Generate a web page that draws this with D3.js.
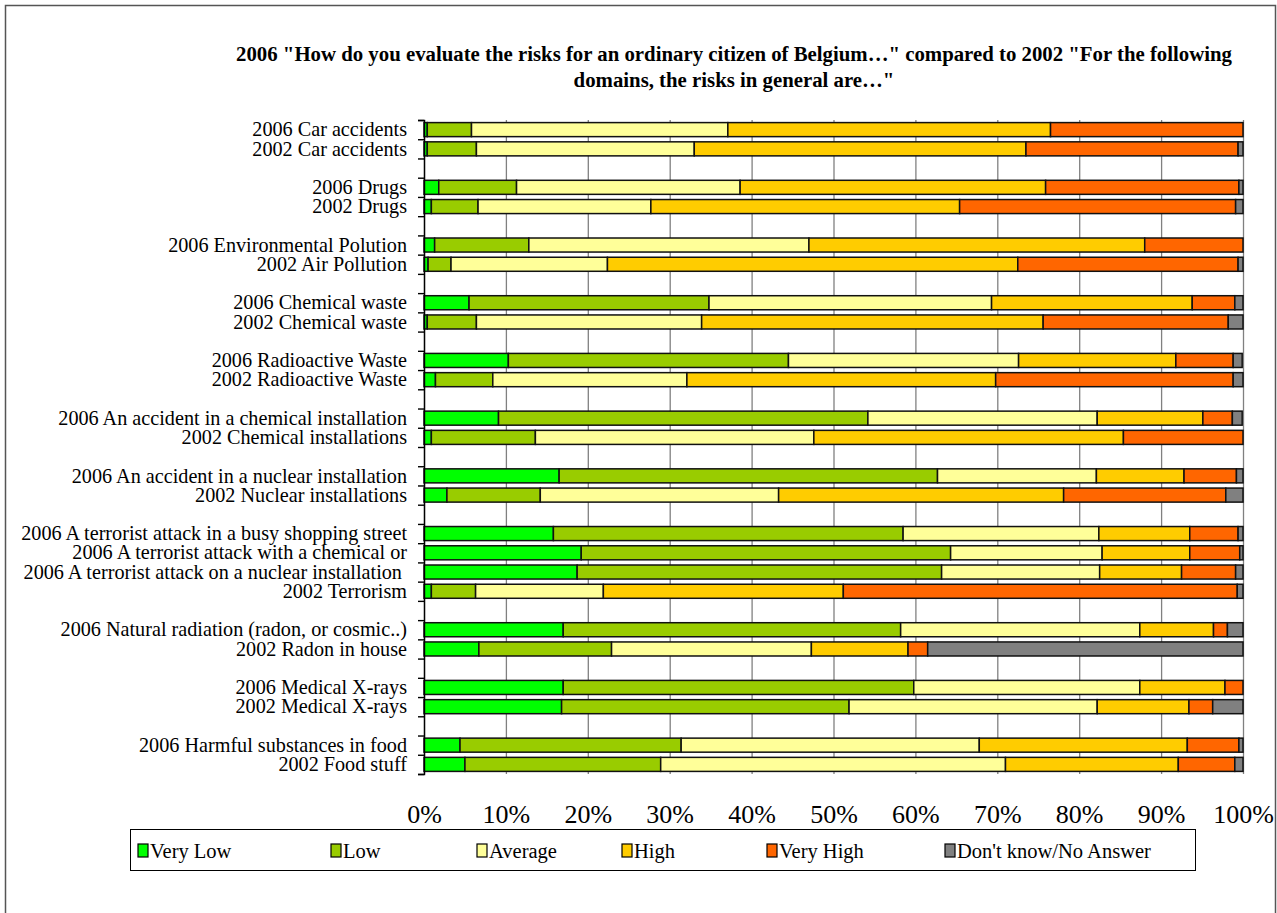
<!DOCTYPE html>
<html lang="en">
<head>
<meta charset="UTF-8">
<title>Risk perception 2006 vs 2002</title>
<style>
  body { margin: 0; background: #fff; }
  svg text { font-family: "Liberation Serif", "Times New Roman", serif; }
  .title { font-family: "Liberation Serif", "Times New Roman", serif; font-weight: bold; font-size: 20.8px; }
  .cat { font-size: 20.2px; white-space: pre; }
  .xaxis text { font-family: "Liberation Serif", serif; font-size: 26px; }
  .leg text { font-size: 20.5px; }
</style>
</head>
<body>
<svg width="1277" height="913"></svg>
<script src="https://cdn.jsdelivr.net/npm/d3@7"></script>
<script>
// rows from top to bottom, "" marks an empty spacer row
const categories = [
  "2006 Car accidents", "2002 Car accidents", "",
  "2006 Drugs", "2002 Drugs", "",
  "2006 Environmental Polution", "2002 Air Pollution", "",
  "2006 Chemical waste", "2002 Chemical waste", "",
  "2006 Radioactive Waste", "2002 Radioactive Waste", "",
  "2006 An accident in a chemical installation", "2002 Chemical installations", "",
  "2006 An accident in a nuclear installation", "2002 Nuclear installations", "",
  "2006 A terrorist attack in a busy shopping street", "2006 A terrorist attack with a chemical or",
  "2006 A terrorist attack on a nuclear installation ", "2002 Terrorism", "",
  "2006 Natural radiation (radon, or cosmic..)", "2002 Radon in house", "",
  "2006 Medical X-rays", "2002 Medical X-rays", "",
  "2006 Harmful substances in food", "2002 Food stuff"
];

const seriesNames = ["Very Low", "Low", "Average", "High", "Very High", "Don't know/No Answer"];

// percentages per bar row (spacer rows skipped), same order as categories
const veryLow  = [0.4, 0.4, 1.8, 0.9, 1.3, 0.5, 5.5, 0.4, 10.3, 1.4, 9.1, 0.9, 16.5, 2.8, 15.8, 19.2, 18.7, 0.9, 17.0, 6.7, 17.0, 16.8, 4.4, 5.0];
const low      = [5.4, 6.0, 9.5, 5.7, 11.5, 2.8, 29.3, 6.0, 34.2, 7.0, 45.1, 12.7, 46.2, 11.4, 42.7, 45.1, 44.5, 5.4, 41.2, 16.2, 42.8, 35.1, 27.0, 23.9];
const average  = [31.3, 26.6, 27.3, 21.1, 34.2, 19.1, 34.5, 27.5, 28.1, 23.7, 28.0, 34.0, 19.4, 29.1, 23.9, 18.5, 19.3, 15.6, 29.2, 24.4, 27.6, 30.3, 36.4, 42.1];
const high     = [39.4, 40.5, 37.3, 37.7, 41.0, 50.1, 24.5, 41.7, 19.2, 37.7, 12.9, 37.8, 10.7, 34.8, 11.1, 10.7, 10.0, 29.3, 9.0, 11.8, 10.4, 11.2, 25.4, 21.1];
const veryHigh = [23.5, 25.9, 23.6, 33.7, 12.0, 26.9, 5.2, 22.6, 7.0, 29.0, 3.6, 14.6, 6.4, 19.8, 5.9, 6.1, 6.6, 48.1, 1.7, 2.4, 2.2, 2.9, 6.3, 6.9];
const dontKnow = [0.0, 0.6, 0.5, 0.9, 0.0, 0.6, 1.0, 1.8, 1.1, 1.2, 1.2, 0.0, 0.8, 2.1, 0.6, 0.4, 0.9, 0.7, 1.9, 38.5, 0.0, 3.7, 0.5, 1.0];

const xTicks = [0, 10, 20, 30, 40, 50, 60, 70, 80, 90, 100];
const colors = ["#00FF00", "#99CC00", "#FFFF99", "#FFCC00", "#FF6600", "#808080"];

const svg = d3.select("svg");

// outer chart frame
svg.append("rect")
  .attr("x", 5.5).attr("y", 5.5)
  .attr("width", 1270).attr("height", 920)
  .attr("fill", "none").attr("stroke", "#555").attr("stroke-width", 1.5);

// title
const title = svg.append("text").attr("class", "title").attr("text-anchor", "middle");
title.append("tspan").attr("x", 734).attr("y", 61)
  .text("2006 \"How do you evaluate the risks for an ordinary citizen of Belgium\u2026\" compared to 2002 \"For the following");
title.append("tspan").attr("x", 734).attr("y", 87)
  .text("domains, the risks in general are\u2026\"");

const plotL = 424, plotR = 1243, plotT = 120, plotB = 774;

const rowKeys = categories.map((c, i) => c === "" ? "gap" + i : c);
const y = d3.scaleBand().domain(rowKeys).range([plotT, plotB])
  .paddingInner(0.27).paddingOuter(0.135);
const x = d3.scaleLinear().domain([0, 100]).range([plotL, plotR]);

// rows -> table
const barRows = rowKeys.filter((k, i) => categories[i] !== "");
const table = barRows.map((k, i) => ({
  key: k,
  "Very Low": veryLow[i], "Low": low[i], "Average": average[i],
  "High": high[i], "Very High": veryHigh[i], "Don't know/No Answer": dontKnow[i]
}));

// gridlines + x labels
const xAxis = d3.axisBottom(x)
  .tickValues(xTicks)
  .tickFormat(d => d + "%")
  .tickSize(-(plotB - plotT))
  .tickPadding(31);
const gx = svg.append("g").attr("class", "xaxis")
  .attr("transform", "translate(0," + plotB + ")")
  .call(xAxis);
gx.select(".domain").remove();
gx.selectAll(".tick line").attr("stroke", "#808080").attr("stroke-width", 1.3);
gx.selectAll(".tick text").attr("fill", "#000");

// bars
const stack = d3.stack().keys(seriesNames)(table);
svg.append("g").selectAll("g")
  .data(stack)
  .join("g")
  .attr("fill", (d, i) => colors[i])
  .selectAll("rect")
  .data(d => d.filter(s => s[1] - s[0] > 0))
  .join("rect")
  .attr("x", d => x(d[0]))
  .attr("y", d => y(d.data.key))
  .attr("width", d => x(d[1]) - x(d[0]))
  .attr("height", y.bandwidth())
  .attr("stroke", "#111")
  .attr("stroke-width", 1.5);

// left axis with ticks on row boundaries
const yEdge = d3.scaleLinear().domain([0, categories.length]).range([plotT, plotB]);
const gy = svg.append("g")
  .attr("transform", "translate(" + plotL + ",0)")
  .call(d3.axisLeft(yEdge).tickValues(d3.range(categories.length + 1)).tickSize(6).tickFormat(""));
gy.selectAll("path, line").attr("stroke", "#000").attr("stroke-width", 1.4);

// category labels
svg.append("g").selectAll("text")
  .data(categories.map((c, i) => ({ c, k: rowKeys[i] })).filter(d => d.c !== ""))
  .join("text")
  .attr("class", "cat")
  .attr("x", 407)
  .attr("y", d => y(d.k) + y.bandwidth() / 2)
  .attr("dy", "0.33em")
  .attr("text-anchor", "end")
  .text(d => d.c);

// legend
const leg = svg.append("g").attr("class", "leg");
leg.append("rect")
  .attr("x", 130.5).attr("y", 829.5).attr("width", 1065).attr("height", 41)
  .attr("fill", "#fff").attr("stroke", "#000").attr("stroke-width", 1);
const legX = [138, 331, 477, 622, 767, 945];
const item = leg.selectAll("g.item")
  .data(seriesNames)
  .join("g")
  .attr("class", "item")
  .attr("transform", (d, i) => "translate(" + legX[i] + ",851)");
item.append("rect")
  .attr("x", 0).attr("y", -7).attr("width", 10).attr("height", 13)
  .attr("fill", (d, i) => colors[i]).attr("stroke", "#000").attr("stroke-width", 1.2);
item.append("text")
  .attr("x", 12).attr("y", 0).attr("dy", "0.33em")
  .text(d => d);
</script>
</body>
</html>
